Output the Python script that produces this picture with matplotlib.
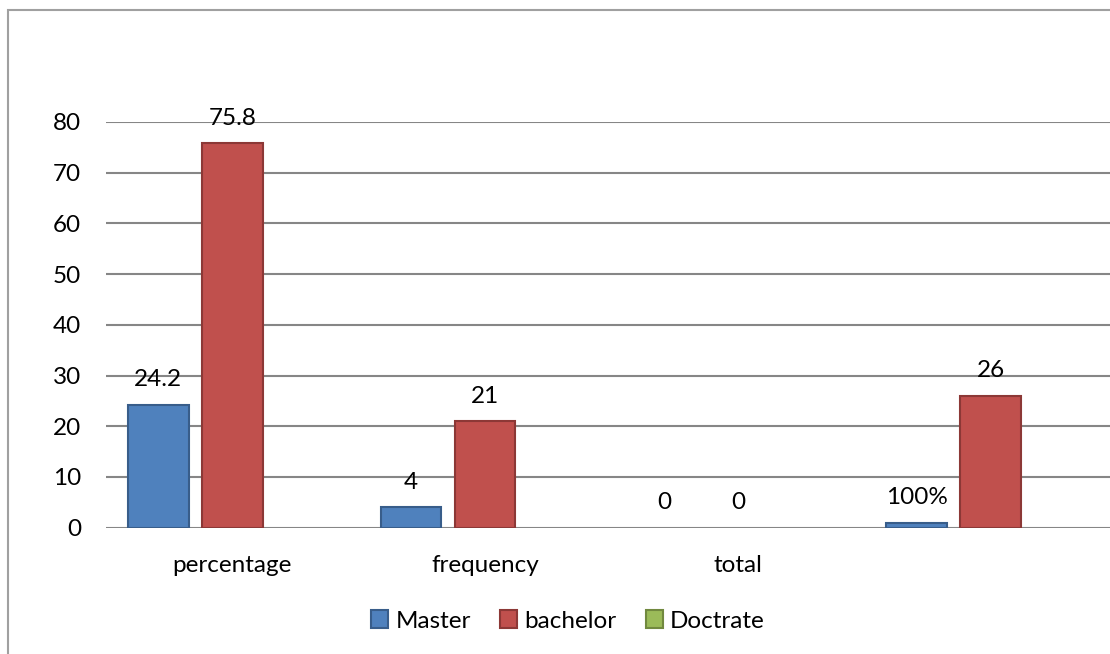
import matplotlib
matplotlib.use("Agg")
import matplotlib.pyplot as plt
from matplotlib.patches import Rectangle, Patch
import numpy as np

plt.rcParams['font.family'] = ['Lato', 'DejaVu Sans']

categories = ["percentage", "frequency", "total", ""]
series_names = ["Master", "bachelor", "Doctrate"]
master = [24.2, 4, 0, 1]
bachelor = [75.8, 21, 0, 26]
doctrate = [None, None, None, None]
master_labels = ["24.2", "4", "0", "100%"]
bachelor_labels = ["75.8", "21", "0", "26"]
y_ticks = [0, 10, 20, 30, 40, 50, 60, 70, 80]

face_colors = ["#4F81BD", "#C0504D", "#9BBB59"]
edge_colors = ["#385D8A", "#8C3836", "#71893F"]
FS = 17.5

fig = plt.figure(figsize=(11.10, 6.54), dpi=100)
fig.patch.set_facecolor("white")

# outer chart frame
fig.patches.append(Rectangle((8 / 1110, -0.05), 1.1, 1 - 10 / 654 + 0.05,
                             transform=fig.transFigure, fill=False,
                             edgecolor="#A0A0A0", linewidth=1.5))

ax = fig.add_axes([106 / 1110, 126.3 / 654, 1011 / 1110, 405.7 / 654])
ax.set_xlim(-0.5, 3.5)
ax.set_ylim(0, 80)
for s in ax.spines.values():
    s.set_visible(False)
ax.set_yticks(y_ticks)
ax.grid(axis="y", color="#868686", linewidth=1.5)
ax.set_axisbelow(True)
ax.tick_params(axis="y", length=0, pad=18, labelsize=FS)
ax.tick_params(axis="x", length=0, pad=20, labelsize=FS)

x = np.arange(len(categories))
offset = 0.293
width = 0.24
all_series = [master, bachelor, doctrate]
all_labels = [master_labels, bachelor_labels, None]
for i, (vals, labs) in enumerate(zip(all_series, all_labels)):
    pos = x + (i - 1) * offset
    heights = [np.nan if v is None else v for v in vals]
    bars = ax.bar(pos, heights, width=width, color=face_colors[i],
                  edgecolor=edge_colors[i], linewidth=1.5, zorder=3)
    for b, h in zip(bars, heights):
        if not h:
            b.set_linewidth(0)
    if labs is not None:
        for p, v, t in zip(pos, vals, labs):
            ax.annotate(t, (p, v), xytext=(0, 18), textcoords="offset points",
                        ha="center", va="center", fontsize=FS, color="black")

ax.set_xticks(x)
ax.set_xticklabels(categories)

handles = [Patch(facecolor=face_colors[i], edgecolor=edge_colors[i], linewidth=1.5)
           for i in range(3)]
fig.legend(handles, series_names, loc="center", bbox_to_anchor=(568 / 1110, 1 - 621 / 654),
           ncol=3, frameon=False, fontsize=FS, handlelength=0.7, handleheight=0.7,
           handletextpad=0.3, columnspacing=1.2)

fig.savefig("out.png", dpi=100, facecolor="white")
